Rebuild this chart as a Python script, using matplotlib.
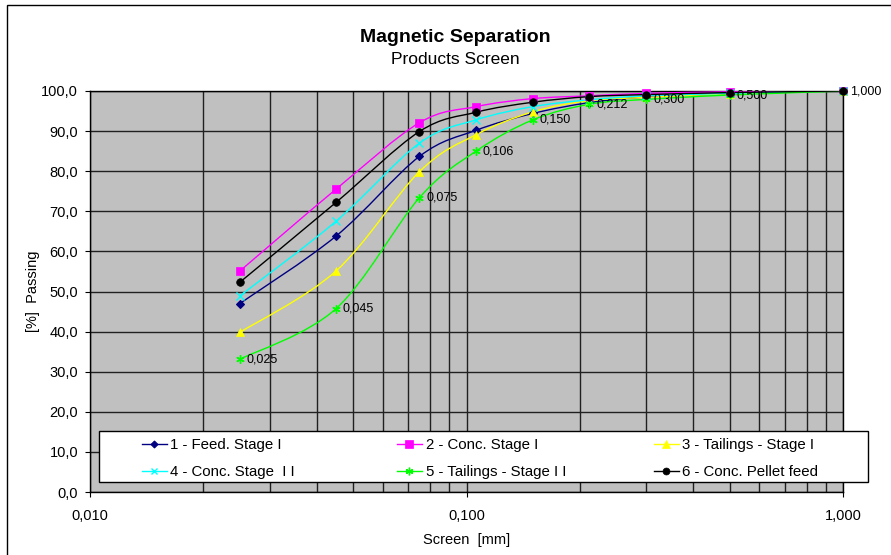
#!/usr/bin/env python3
"""Magnetic separation - cumulative passing vs screen size (log scale)."""

import matplotlib as mpl

mpl.use("Agg")

import matplotlib.pyplot as plt
import numpy as np
from matplotlib.lines import Line2D
from matplotlib.patches import PathPatch, Rectangle
from matplotlib.path import Path
from matplotlib.ticker import FixedLocator, FuncFormatter, LogLocator, NullFormatter

plt.rcParams["font.family"] = ["Liberation Sans", "DejaVu Sans"]

# screen openings [mm]
SIZES = [0.025, 0.045, 0.075, 0.106, 0.150, 0.212, 0.300, 0.500, 1.000]

# cumulative passing [%]
FEED_STAGE_1 = [47.0, 63.8, 83.7, 90.2, 94.4, 97.1, 98.5, 99.3, 100.0]
CONC_STAGE_1 = [55.1, 75.5, 92.1, 96.1, 98.1, 98.8, 99.4, 99.8, 100.0]
TAILS_STAGE_1 = [39.8, 55.1, 79.9, 89.1, 94.8, 97.6, 98.4, 99.3, 100.0]
CONC_STAGE_2 = [48.9, 67.5, 87.0, 92.8, 96.1, 97.8, 98.8, 99.4, 100.0]
TAILS_STAGE_2 = [33.1, 45.7, 73.4, 85.0, 92.8, 96.7, 97.9, 99.0, 100.0]
PELLET_FEED = [52.3, 72.2, 89.9, 94.7, 97.2, 98.6, 99.1, 99.6, 100.0]

LABELS = [
    "1 - Feed. Stage I",
    "2 - Conc. Stage I",
    "3 - Tailings - Stage I",
    "4 - Conc. Stage  I I",
    "5 - Tailings - Stage I I",
    "6 - Conc. Pellet feed",
]

W, H = 891, 555
AX_LEFT, AX_RIGHT, AX_TOP, AX_BOTTOM = 90, 843, 91, 492


def fig_xy(x, y):
    """pixel position (from top-left) -> figure fraction"""
    return x / W, 1.0 - y / H


def smooth_path(x, y):
    # Excel style smoothed line: cubic bezier through the points,
    # control points taken in log-x space
    lx = np.log10(np.asarray(x, dtype=float))
    ly = np.asarray(y, dtype=float)
    pts = np.column_stack([lx, ly])
    n = len(pts)
    verts = [pts[0]]
    codes = [Path.MOVETO]
    for i in range(n - 1):
        p0 = pts[max(i - 1, 0)]
        p1 = pts[i]
        p2 = pts[i + 1]
        p3 = pts[min(i + 2, n - 1)]
        c1 = p1 + (p2 - p0) / 6.0
        c2 = p2 - (p3 - p1) / 6.0
        verts.extend([c1, c2, p2])
        codes.extend([Path.CURVE4] * 3)
    verts = np.array(verts)
    verts[:, 0] = 10.0 ** verts[:, 0]
    return Path(verts, codes)


def main() -> None:
    series = [FEED_STAGE_1, CONC_STAGE_1, TAILS_STAGE_1, CONC_STAGE_2, TAILS_STAGE_2, PELLET_FEED]
    styles = [
        dict(color="#000080", marker="D", ms=4.0, mew=0.8),
        dict(color="#FF00FF", marker="s", ms=6.0, mew=0.5),
        dict(color="#FFFF00", marker="^", ms=6.0, mew=0.5),
        dict(color="#00FFFF", marker="x", ms=5.5, mew=1.0),
        dict(color="#00FF00", marker=(6, 2, 0), ms=6.0, mew=1.0),
        dict(color="#000000", marker="o", ms=5.5, mew=0.5),
    ]

    fig = plt.figure(figsize=(W / 100, H / 100), dpi=100)
    x0, y1 = fig_xy(AX_LEFT, AX_TOP)
    x1, y0 = fig_xy(AX_RIGHT, AX_BOTTOM)
    ax = fig.add_axes([x0, y0, x1 - x0, y1 - y0])
    ax.set_facecolor("#C0C0C0")

    handles = []
    for vals, st in zip(series, styles):
        patch = PathPatch(smooth_path(SIZES, vals), fill=False, edgecolor=st["color"], lw=1.0, zorder=3)
        ax.add_patch(patch)
        ax.plot(SIZES, vals, ls="none", marker=st["marker"], ms=st["ms"], mew=st["mew"],
                color=st["color"], mec=st["color"], zorder=4, clip_on=False)
        handles.append(Line2D([], [], color=st["color"], lw=1.0, marker=st["marker"],
                              ms=st["ms"] - 0.5, mew=st["mew"], mec=st["color"]))

    # data labels on the stage II tailings
    for s, v in zip(SIZES, TAILS_STAGE_2):
        ax.annotate(f"{s:.3f}".replace(".", ","), (s, v), xytext=(5, 0),
                    textcoords="offset points", va="center", ha="left",
                    fontsize=9, annotation_clip=False, zorder=5)

    ax.set_xscale("log")
    ax.set_xlim(0.01, 1.0)
    ax.set_ylim(0, 100)
    ax.xaxis.set_major_locator(FixedLocator([0.01, 0.1, 1.0]))
    ax.xaxis.set_major_formatter(FuncFormatter(lambda v, p: f"{v:.3f}".replace(".", ",")))
    ax.xaxis.set_minor_locator(LogLocator(base=10, subs=np.arange(2, 10)))
    ax.xaxis.set_minor_formatter(NullFormatter())
    ax.yaxis.set_major_locator(FixedLocator(np.arange(0, 101, 10)))
    ax.yaxis.set_major_formatter(FuncFormatter(lambda v, p: f"{v:.1f}".replace(".", ",")))

    ax.tick_params(axis="both", which="major", direction="out", length=3.5, width=0.8,
                   labelsize=10.5, color="black")
    ax.tick_params(axis="y", pad=5)
    ax.tick_params(axis="x", pad=9)
    ax.tick_params(axis="x", which="minor", length=0)
    ax.grid(True, which="both", color="#202020", lw=1.0)
    ax.set_axisbelow(True)
    for sp in ax.spines.values():
        sp.set_color("black")
        sp.set_linewidth(1.0)

    span_x = AX_RIGHT - AX_LEFT
    span_y = AX_BOTTOM - AX_TOP
    ax.set_xlabel("Screen  [mm]", fontsize=10.5)
    ax.xaxis.set_label_coords(0.5, -(540 - AX_BOTTOM) / span_y)
    ax.xaxis.label.set_va("center")
    ax.set_ylabel("[%]  Passing", fontsize=10.5)
    ax.yaxis.set_label_coords(-(AX_LEFT - 33) / span_x, 0.5)
    ax.yaxis.label.set_va("center")

    tx, ty = fig_xy(455, 37)
    fig.text(tx, ty, "Magnetic Separation", ha="center", va="center", fontsize=14, fontweight="bold")
    tx, ty = fig_xy(455, 60)
    fig.text(tx, ty, "Products Screen", ha="center", va="center", fontsize=12.5)

    # chart border (runs off the right / bottom edge)
    bx, by = fig_xy(7, 600)
    fig.patches.append(Rectangle((bx, by), 1.2, fig_xy(0, 5)[1] - by, transform=fig.transFigure,
                                 fill=False, edgecolor="black", lw=1.0, zorder=1))

    # legend box with three equal columns
    lx, ly = fig_xy(98.5, 481.5)
    rx, ry = fig_xy(867.5, 431)
    fig.patches.append(Rectangle((lx, ly), rx - lx, ry - ly, transform=fig.transFigure,
                                 facecolor="white", edgecolor="black", lw=1.0, zorder=2))
    order = [(0, 3), (1, 4), (2, 5)]
    for col, (a, b) in zip([142, 397, 654], order):
        leg = fig.legend([handles[a], handles[b]], [LABELS[a], LABELS[b]],
                         loc="upper left", bbox_to_anchor=fig_xy(col, 438.0),
                         frameon=False, fontsize=10.8, handlelength=1.65, handletextpad=0.25,
                         borderpad=0, borderaxespad=0, labelspacing=0.88, numpoints=1)
        leg.set_zorder(6)

    fig.savefig("out.png", dpi=100)
    plt.close(fig)


if __name__ == "__main__":
    main()
